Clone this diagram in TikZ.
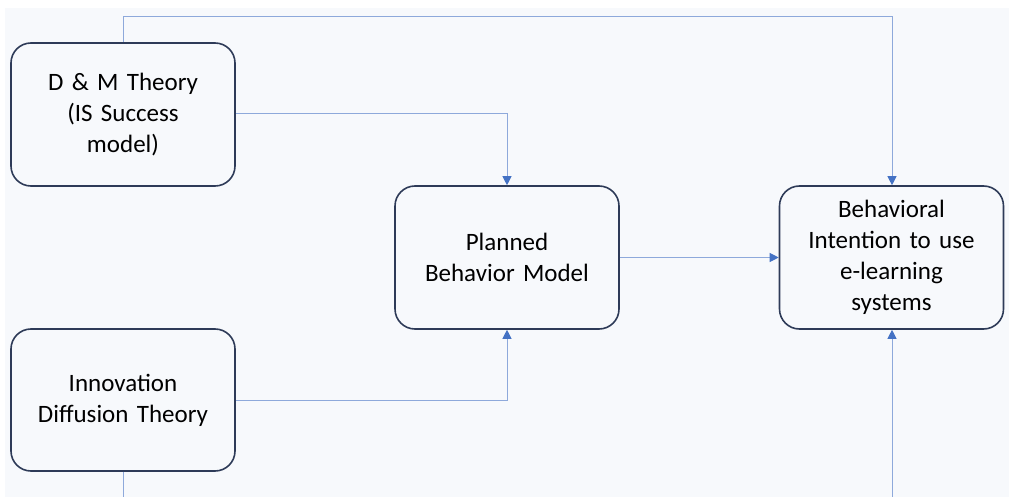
\documentclass[tikz,border=0pt]{standalone}
\usepackage{fontspec}
\setmainfont{Carlito}
\usetikzlibrary{arrows.meta}
\definecolor{bgc}{HTML}{F7F9FC}
\definecolor{boxc}{HTML}{2E3B58}
\definecolor{linec}{HTML}{8EA9DB}
\definecolor{tipc}{HTML}{4472C4}
\begin{document}
\begin{tikzpicture}[x=1pt,y=-1pt,
  theory/.style={draw=boxc,line width=1.6pt,rounded corners=20pt,fill=bgc,
    minimum width=224pt,minimum height=143pt,inner sep=0pt,align=center,
    font=\fontsize{25}{31}\selectfont,text width=200pt},
  conn/.style={draw=linec,line width=1pt,
    -{Triangle[length=9pt,width=9pt,color=tipc]}},
  plain/.style={draw=linec,line width=1pt}]
\useasboundingbox (0,0) rectangle (1009,497);
\fill[white] (0,0) rectangle (1009,497);
\fill[bgc] (5,8) rectangle (1009,497);
\node[theory] (dm) at (123,114.5) {D \& M Theory\\(IS Success\\model)};
\node[theory] (pb) at (507,257.5) {Planned\\Behavior Model};
\node[theory,text width=190pt] (bi) at (891.5,257.5) {Behavioral\\Intention to use\\e-learning\\systems};
\node[theory,minimum height=142pt] (id) at (123,400) {Innovation\\Diffusion Theory};
\coordinate (topa) at (123,17);
\coordinate (topb) at (892,17);
\coordinate (bendA) at (507,114);
\coordinate (bendD) at (507,400);
\coordinate (botD) at (123,497);
\coordinate (botC) at (892,497);
\draw[conn] (dm.north) -- (topa) -- (topb) -- (bi.north -| topb);
\draw[conn] (dm.east |- bendA) -- (bendA) -- (pb.north);
\draw[conn] (pb.east) -- (bi.west);
\draw[conn] (id.east |- bendD) -- (bendD) -- (pb.south);
\draw[plain] (id.south) -- (botD);
\draw[conn] (botC) -- (bi.south -| botC);
\end{tikzpicture}
\end{document}
